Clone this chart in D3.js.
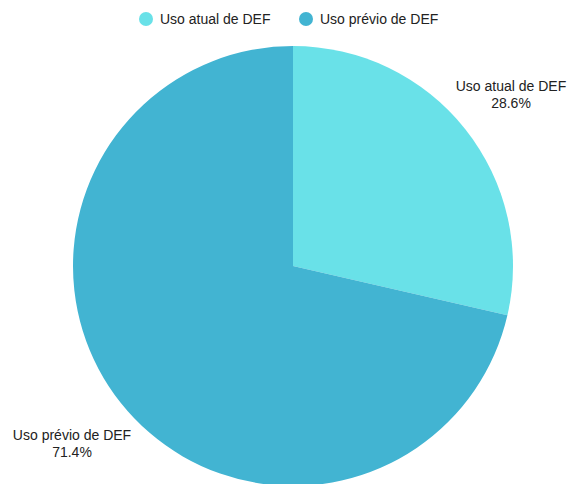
<!DOCTYPE html>
<html>
<head>
<meta charset="utf-8">
<script src="https://cdn.jsdelivr.net/npm/d3@7"></script>
<style>
  html, body { margin: 0; padding: 0; background: #ffffff; }
  svg { display: block; font-family: "Liberation Sans", Arial, sans-serif; }
</style>
</head>
<body>
<svg id="chart" width="567" height="484"></svg>
<script>
// Share of DEF usage
const categories = ["Uso atual de DEF", "Uso prévio de DEF"];
const values = [28.6, 71.4];
const colors = ["#69e1e8", "#42b4d2"];

const svg = d3.select("#chart");
const cx = 293, cy = 266, radius = 220;

const data = categories.map((c, i) => ({ name: c, value: values[i], color: colors[i] }));

const pie = d3.pie().value(d => d.value).sort(null);
const arc = d3.arc().innerRadius(0).outerRadius(radius);
const arcs = pie(data);

const g = svg.append("g").attr("transform", `translate(${cx},${cy})`);
g.selectAll("path")
  .data(arcs)
  .join("path")
  .attr("d", arc)
  .attr("fill", d => d.data.color);

// Slice captions, positioned relative to the pie center
const capPos = [
  { x: 511 - cx, y: 91 - cy },
  { x: 72 - cx, y: 440 - cy }
];
g.selectAll("text.caption")
  .data(arcs)
  .join("text")
  .attr("class", "caption")
  .attr("text-anchor", "middle")
  .attr("font-size", 14)
  .attr("fill", "#222")
  .each(function (d, i) {
    const t = d3.select(this);
    t.append("tspan").attr("x", capPos[i].x).attr("y", capPos[i].y).text(d.data.name);
    t.append("tspan").attr("x", capPos[i].x).attr("y", capPos[i].y + 16.5)
      .text(d3.format(".1f")(d.data.value) + "%");
  });

// Legend
const legendX = [146, 306];
const legend = svg.append("g");
data.forEach((d, i) => {
  legend.append("circle").attr("cx", legendX[i]).attr("cy", 19).attr("r", 7).attr("fill", d.color);
  legend.append("text").attr("x", legendX[i] + 14).attr("y", 24)
    .attr("font-size", 14).attr("fill", "#222").text(d.name);
});
</script>
</body>
</html>
